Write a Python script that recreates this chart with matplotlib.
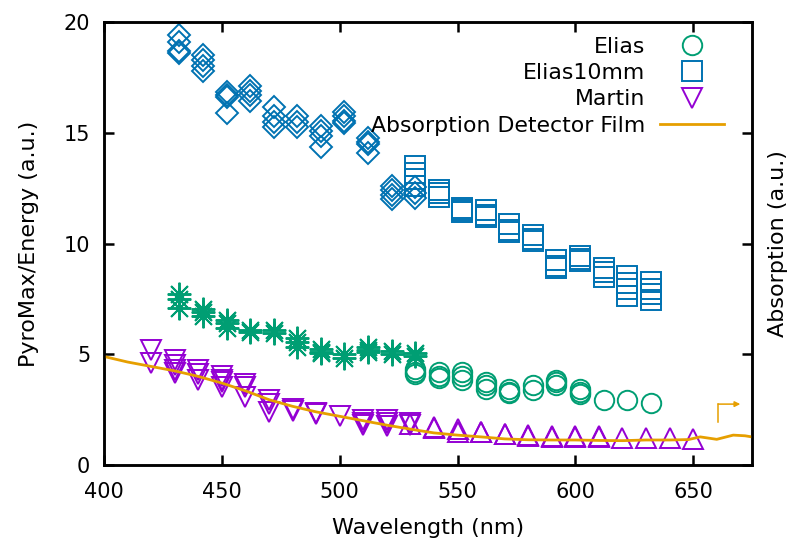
import numpy as np
from matplotlib import pyplot as plt

# Elias (green): stars 432-532, circles 532-632
wl_elias_a = [432, 442, 452, 462, 472, 482, 492, 502, 512, 522, 532]
elias_a = [[7.7, 7.5, 7.1], [7.05, 6.9, 6.75], [6.55, 6.4, 6.2], [6.1, 6.0],
           [6.1, 5.95], [5.75, 5.55, 5.35], [5.25, 5.1, 5.05], [5.0, 4.85],
           [5.35, 5.2, 5.1], [5.15, 5.0], [5.05, 4.9]]
wl_elias_b = [532, 542, 552, 562, 572, 582, 592, 602, 612, 622, 632]
elias_b = [[4.35, 4.2, 4.1], [4.2, 4.0, 3.95], [4.2, 4.0, 3.85], [3.75, 3.6, 3.45],
           [3.45, 3.3, 3.25], [3.6, 3.4], [3.85, 3.75, 3.6], [3.45, 3.3, 3.2],
           [2.93], [2.92], [2.82]]

# Elias10mm (blue): diamonds 432-532, squares 532-632
wl_e10_a = [432, 442, 452, 462, 472, 482, 492, 502, 512, 522, 532]
e10_a = [[19.4, 19.1, 18.7, 18.6], [18.5, 18.3, 18.0, 17.8], [16.85, 16.7, 16.6, 15.9],
         [17.1, 16.9, 16.7, 16.45], [16.15, 15.75, 15.5, 15.25], [15.75, 15.5, 15.25],
         [15.3, 15.1, 14.85, 14.35], [15.95, 15.75, 15.55, 15.45], [14.75, 14.6, 14.5, 14.1],
         [12.6, 12.4, 12.2, 12.0], [12.55, 12.3, 12.05]]
wl_e10_b = [532, 542, 552, 562, 572, 582, 592, 602, 612, 622, 632]
e10_b = [[13.5, 13.2, 12.9, 12.6], [12.4, 12.3, 12.1], [11.6, 11.5, 11.4],
         [11.5, 11.3, 11.2], [10.9, 10.6, 10.5], [10.4, 10.2, 10.1],
         [9.25, 9.0, 8.9], [9.45, 9.3, 9.2], [8.9, 8.7, 8.5],
         [8.55, 8.2, 7.95, 7.65], [8.25, 7.95, 7.7, 7.45]]

# Martin (purple): down triangles 420-530, up triangles 530-650
wl_martin_a = [420, 430, 440, 450, 460, 470, 480, 490, 500, 510, 520, 530]
martin_a = [[5.2, 4.6], [4.75, 4.5, 4.3, 4.15], [4.3, 4.1, 3.85], [4.0, 3.85, 3.75, 3.5],
            [3.65, 3.5, 3.05], [2.95, 2.75, 2.4], [2.55, 2.45], [2.35, 2.3],
            [2.2], [2.05, 1.9, 1.8], [2.05, 1.9, 1.75], [1.9, 1.8]]
wl_martin_b = [530, 540, 550, 560, 570, 580, 590, 600, 610, 620, 630, 640, 650]
martin_b = [[1.85], [1.72, 1.68], [1.62, 1.5], [1.5, 1.47], [1.4, 1.38], [1.35, 1.3],
            [1.3, 1.28], [1.3, 1.27], [1.3, 1.27], [1.24], [1.22], [1.2], [1.18]]

# absorption of detector film (right axis)
wl_abs = [398, 410, 420, 430, 440, 450, 460, 470, 480, 490, 500, 510, 520, 530, 540,
          550, 560, 570, 580, 590, 600, 610, 620, 630, 640, 648, 653, 660, 667, 672, 676]
absorp = [4.95, 4.65, 4.45, 4.25, 4.0, 3.7, 3.35, 2.95, 2.65, 2.4, 2.2, 2.0, 1.8, 1.62, 1.45,
          1.35, 1.27, 1.18, 1.14, 1.13, 1.13, 1.11, 1.1, 1.13, 1.13, 1.15, 1.27, 1.16, 1.35, 1.32, 1.25]

c_green = '#009e73'
c_blue = '#0072b2'
c_purple = '#9400d3'
c_orange = '#e69f00'
star = (8, 2, 0)

def flat(wl, vals):
    x = []
    y = []
    for w, vs in zip(wl, vals):
        for v in vs:
            x.append(w)
            y.append(v)
    return np.array(x), np.array(y)

plt.rcParams['font.family'] = 'DejaVu Sans'
plt.rcParams['font.size'] = 16

fig = plt.figure(figsize=(7.91, 5.43), dpi=100)
ax = fig.add_axes([0.1315, 0.1436, 0.8193, 0.8159])
ax2 = ax.twinx()

x, y = flat(wl_elias_b, elias_b)
ax.plot(x, y, ls='none', marker='o', ms=14, mfc='none', mec=c_green, mew=1.4, label='Elias')
x, y = flat(wl_e10_b, e10_b)
ax.plot(x, y, ls='none', marker='s', ms=14, mfc='none', mec=c_blue, mew=1.4, label='Elias10mm')
x, y = flat(wl_martin_a, martin_a)
ax.plot(x, y, ls='none', marker='v', ms=14, mfc='none', mec=c_purple, mew=1.4, label='Martin')
x, y = flat(wl_elias_a, elias_a)
ax.plot(x, y, ls='none', marker=star, ms=17, mec=c_green, mew=1.4)
x, y = flat(wl_e10_a, e10_a)
ax.plot(x, y, ls='none', marker='D', ms=11, mfc='none', mec=c_blue, mew=1.4)
x, y = flat(wl_martin_b, martin_b)
ax.plot(x, y, ls='none', marker='^', ms=14, mfc='none', mec=c_purple, mew=1.4)

ax2.plot(wl_abs, absorp, color=c_orange, lw=2)
ax.plot([], [], color=c_orange, lw=2, label='Absorption Detector Film')

# arrow pointing to the right axis
ax2.plot([660.6, 660.6], [1.94, 2.75], color=c_orange, lw=1.1)
ax2.annotate('', xy=(670, 2.75), xytext=(660.6, 2.75),
             arrowprops=dict(arrowstyle='-|>', color=c_orange, lw=1.1,
                             mutation_scale=8, shrinkA=0, shrinkB=0))

ax.set_xlim(400, 675)
ax.set_ylim(0, 20)
ax2.set_ylim(0, 20)
ax.set_xticks([400, 450, 500, 550, 600, 650])
ax.set_yticks([0, 5, 10, 15, 20])
ax2.set_yticks([0, 5, 10, 15, 20])
ax2.set_yticklabels([])
ax.tick_params(axis='x', direction='in', length=7, width=1.8, top=True, pad=12, labelsize=15)
ax.tick_params(axis='y', direction='in', length=7, width=1.8, pad=10, labelsize=15)
ax2.tick_params(direction='in', length=7, width=1.8)
for a in (ax, ax2):
    for s in a.spines.values():
        s.set_linewidth(1.8)

ax.set_xlabel('Wavelength (nm)', labelpad=12)
ax.set_ylabel('PyroMax/Energy (a.u.)', labelpad=18)
ax2.set_ylabel('Absorption (a.u.)', labelpad=8)

ax.legend(loc='upper right', bbox_to_anchor=(0.957, 0.967), markerfirst=False,
          frameon=False, handlelength=2.93, handletextpad=0.67, labelspacing=0.29,
          borderaxespad=0, borderpad=0, fontsize=15.8)

fig.savefig('out.png', dpi=100)
